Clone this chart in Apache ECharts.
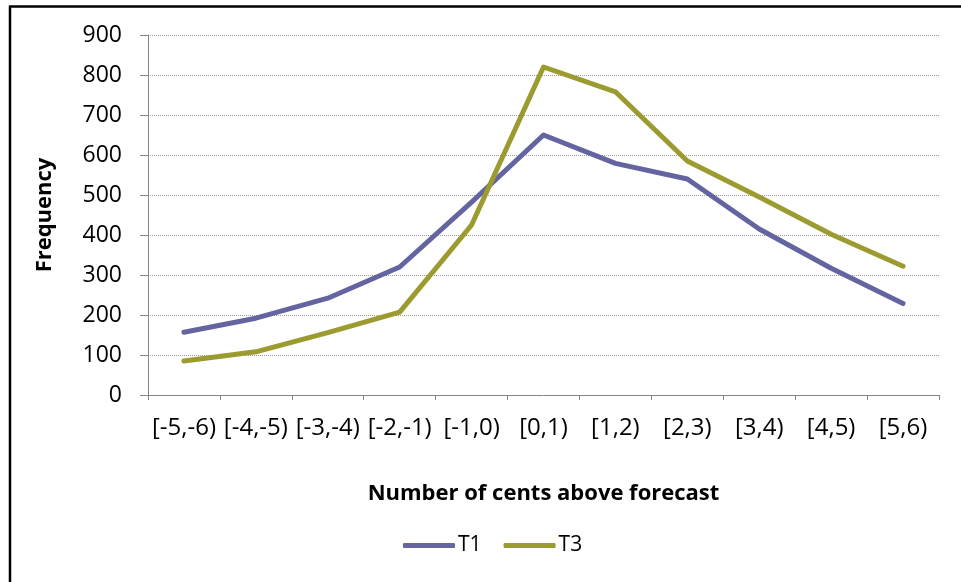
<!DOCTYPE html>
<html>
<head>
<meta charset="utf-8">
<title>Frequency by cents above forecast</title>
<script src="https://cdn.jsdelivr.net/npm/echarts@6/dist/echarts.min.js"></script>
<style>
  html, body { margin: 0; padding: 0; background: #ffffff; }
  #chart { width: 961px; height: 582px; }
</style>
</head>
<body>
<div id="chart"></div>
<script>
// Bins of cents above forecast
const categories = ['[-5,-6)', '[-4,-5)', '[-3,-4)', '[-2,-1)', '[-1,0)', '[0,1)', '[1,2)', '[2,3)', '[3,4)', '[4,5)', '[5,6)'];
// Frequency per bin for each treatment
const t1Values = [157, 192, 242, 320, 482, 650, 579, 540, 415, 317, 229];
const t3Values = [85, 108, 156, 207, 425, 820, 758, 585, 495, 402, 322];
const yTicks = { min: 0, max: 900, interval: 100 };

const font = '"Open Sans", "Noto Sans", sans-serif';
const axisGray = '#868686';

const chart = echarts.init(document.getElementById('chart'), null, { renderer: 'canvas' });

chart.setOption({
  animation: false,
  backgroundColor: '#ffffff',
  graphic: [
    // Frame around the chart (top and left edges visible)
    { type: 'line', shape: { x1: 9, y1: 6.5, x2: 961, y2: 6.5 }, style: { stroke: '#000', lineWidth: 2.5 } },
    { type: 'line', shape: { x1: 10, y1: 6, x2: 10, y2: 582 }, style: { stroke: '#000', lineWidth: 2.5 } }
  ],
  grid: { left: 148, right: 22, top: 35, bottom: 187, containLabel: false },
  legend: {
    data: ['T1', 'T3'],
    left: 398,
    top: 530,
    icon: 'roundRect',
    itemWidth: 52,
    itemHeight: 5,
    itemGap: 22,
    textStyle: { fontFamily: font, fontSize: 21, color: '#000', padding: [0, 0, 0, -2] }
  },
  xAxis: {
    type: 'category',
    data: categories,
    boundaryGap: true,
    name: 'Number of cents above forecast',
    nameLocation: 'middle',
    nameGap: 88,
    nameTextStyle: { fontFamily: font, fontSize: 22, fontWeight: 'bold', color: '#000' },
    axisLine: { show: true, lineStyle: { color: axisGray, width: 1 } },
    axisTick: { show: true, length: 5, alignWithLabel: false, lineStyle: { color: axisGray } },
    axisLabel: { margin: 21, fontFamily: font, fontSize: 24, color: '#000', interval: 0 },
    splitLine: { show: false }
  },
  yAxis: {
    type: 'value',
    min: yTicks.min,
    max: yTicks.max,
    interval: yTicks.interval,
    name: 'Frequency',
    nameLocation: 'middle',
    nameGap: 92,
    nameRotate: 90,
    nameTextStyle: { fontFamily: font, fontSize: 22, fontWeight: 'bold', color: '#000' },
    axisLine: { show: true, lineStyle: { color: axisGray, width: 1 } },
    axisTick: { show: true, length: 8, lineStyle: { color: axisGray } },
    axisLabel: { margin: 26, fontFamily: font, fontSize: 23, color: '#000' },
    splitLine: { show: true, lineStyle: { color: '#9a9a9a', type: 'dotted', width: 1 } }
  },
  series: [
    {
      name: 'T1',
      type: 'line',
      data: t1Values,
      symbol: 'none',
      color: '#6464A0',
      lineStyle: { color: '#6464A0', width: 5, cap: 'round', join: 'round' }
    },
    {
      name: 'T3',
      type: 'line',
      data: t3Values,
      symbol: 'none',
      color: '#9B9B30',
      lineStyle: { color: '#9B9B30', width: 5, cap: 'round', join: 'round' }
    }
  ]
});
</script>
</body>
</html>
